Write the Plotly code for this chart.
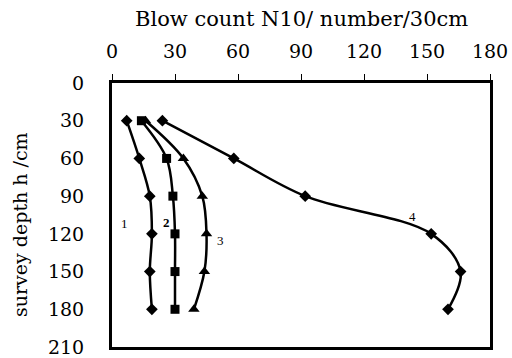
import plotly.graph_objects as go

depth = [30, 60, 90, 120, 150, 180]
s1 = [7, 13, 18, 19, 18, 19]
s2 = [14, 26, 29, 30, 30, 30]
s3 = [16, 34, 43, 45, 44, 39]
s4 = [24, 58, 92, 152, 166, 160]

labels = ["1", "2", "3", "4"]
label_x = [6, 26, 51.5, 143]
label_y = [112, 111, 125, 106]

x_title = "Blow count N10/ number/30cm"
y_title = "survey depth h /cm"

fig = go.Figure()
for vals, sym, sz in [(s1, "diamond", 9), (s2, "square", 9), (s3, "triangle-up", 10), (s4, "diamond", 9)]:
    fig.add_trace(go.Scatter(
        x=vals, y=depth, mode="lines+markers",
        line=dict(color="black", width=2.5, shape="spline", smoothing=1.0),
        marker=dict(symbol=sym, size=sz, color="black"),
        showlegend=False,
    ))

for t, x, y in zip(labels, label_x, label_y):
    fig.add_annotation(x=x, y=y, text=("<b>%s</b>" % t) if t == "2" else t, showarrow=False,
                       font=dict(family="Liberation Serif", size=13, color="black"))

FONT = "DejaVu Serif"
fig.add_annotation(xref="paper", yref="paper", x=0.5, y=1, yshift=64, yanchor="middle",
                   text=x_title, showarrow=False,
                   font=dict(family=FONT, size=21, color="black"))
fig.add_annotation(xref="paper", yref="paper", x=0, y=0.5, xshift=-92, yshift=-10, xanchor="center",
                   text=y_title, textangle=-90, showarrow=False,
                   font=dict(family=FONT, size=19, color="black"))

fig.update_layout(
    width=512, height=358,
    margin=dict(l=112, r=22, t=83, b=11),
    paper_bgcolor="white", plot_bgcolor="white",
    font=dict(family=FONT, size=19, color="black"),
)
fig.update_xaxes(
    side="top", range=[0, 180], tickvals=[0, 30, 60, 90, 120, 150, 180],
    ticks="outside", ticklen=6, tickwidth=1, tickcolor="black",
    showline=True, linecolor="black", linewidth=3, mirror=True,
    showgrid=False, zeroline=False, ticklabelstandoff=8, automargin=False,
)
fig.update_yaxes(
    range=[210, 0], tickvals=[0, 30, 60, 90, 120, 150, 180, 210],
    ticks="", showline=True, linecolor="black", linewidth=3, mirror=True,
    showgrid=False, zeroline=False, ticklabelstandoff=21, automargin=False,
)
fig.write_html("out.html", config={"displayModeBar": False},
               post_script="document.body.style.margin='0';")
